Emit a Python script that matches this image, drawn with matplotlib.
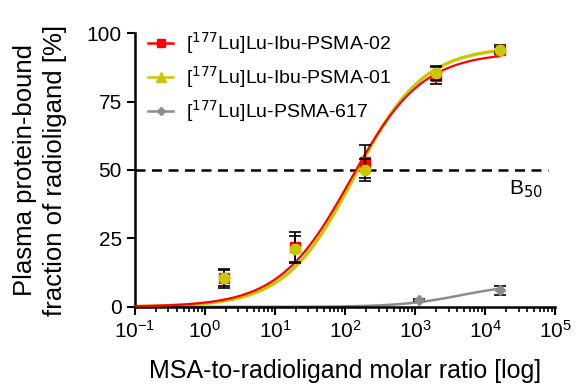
import matplotlib.pyplot as plt
import numpy as np
from matplotlib.lines import Line2D
from matplotlib.ticker import LogLocator, FixedLocator, NullFormatter

plt.rcParams.update({'font.family': ['Liberation Sans', 'DejaVu Sans']})

# data
ratio = [1.9, 19, 190, 2000, 16000]
psma02 = [10.5, 22, 53, 84.5, 94]
psma02_err = [3.5, 5.5, 6, 3, 1.5]
psma01 = [10.5, 21, 50, 85.5, 94]
psma01_err = [3, 5, 4, 2.5, 1]
ratio617 = [1150, 16000]
psma617 = [2.5, 6]
psma617_err = [0.5, 1.5]

# fitted curve parameters (Hill equation, log scale)
fit02 = dict(top=93, ec50=120, h=0.85)
fit01 = dict(top=95, ec50=135, h=0.88)
fit617 = dict(top=8.5, ec50=4500, h=1.0)

labels = ['[$^{177}$Lu]Lu-Ibu-PSMA-02', '[$^{177}$Lu]Lu-Ibu-PSMA-01', '[$^{177}$Lu]Lu-PSMA-617']
colors = ['#ff0000', '#c8c800', '#8c8c8c']


def hill(x, top, ec50, h):
    return top / (1 + (ec50 / x) ** h)


fig = plt.figure(figsize=(5.79, 3.85), dpi=100)
ax = fig.add_axes([0.233, 0.203, 0.726, 0.711])

xs = np.logspace(-1, np.log10(16000), 300)
ax.plot(xs, hill(xs, **fit01), color=colors[1], lw=2.4, zorder=2)
ax.plot(xs, hill(xs, **fit02), color=colors[0], lw=1.6, zorder=3)
ax.plot(xs, hill(xs, **fit617), color=colors[2], lw=1.8, zorder=2)

ax.errorbar(ratio, psma02, yerr=psma02_err, fmt='s', color=colors[0], ms=7,
            ecolor='black', elinewidth=1.2, capsize=4, capthick=1.2, zorder=4)
ax.errorbar(ratio, psma01, yerr=psma01_err, fmt='o', color=colors[1], ms=7.5,
            ecolor='black', elinewidth=1.2, capsize=4, capthick=1.2, zorder=5)
ax.errorbar(ratio617, psma617, yerr=psma617_err, fmt='D', color=colors[2], ms=5,
            ecolor='black', elinewidth=1.2, capsize=4, capthick=1.2, zorder=4)

ax.plot([0.1, 8e4], [50, 50], color='black', lw=1.8, ls=(0, (4, 2.6)), zorder=1)
ax.text(2.2e4, 47, 'B$_{50}$', fontsize=15, ha='left', va='top')

ax.set_xscale('log')
ax.set_xlim(0.1, 1e5)
ax.set_ylim(0, 100)
ax.set_yticks([0, 25, 50, 75, 100])
ax.xaxis.set_major_locator(FixedLocator([10.0 ** k for k in range(-1, 6)]))
ax.xaxis.set_minor_locator(LogLocator(base=10, subs=np.arange(2, 10)))
ax.xaxis.set_minor_formatter(NullFormatter())

for s in ['top', 'right']:
    ax.spines[s].set_visible(False)
for s in ['left', 'bottom']:
    ax.spines[s].set_linewidth(1.8)
ax.tick_params(which='major', length=6, width=1.5, labelsize=15, direction='out')
ax.tick_params(which='minor', length=3.5, width=1.2, direction='out')

ax.set_xlabel('MSA-to-radioligand molar ratio [log]', fontsize=18, labelpad=12)
ax.set_ylabel('Plasma protein-bound\nfraction of radioligand [%]', fontsize=18.5,
              labelpad=14, linespacing=1.3)

handles = [
    Line2D([], [], color=colors[0], marker='s', ms=6, lw=1.8),
    Line2D([], [], color=colors[1], marker='^', ms=7, lw=1.8),
    Line2D([], [], color=colors[2], marker='D', ms=4.5, lw=1.8),
]
ax.legend(handles, labels, loc='upper left', bbox_to_anchor=(-0.01, 1.075), frameon=False,
          fontsize=14, handlelength=1.3, handletextpad=0.65, labelspacing=0.42)

fig.savefig('out.png', dpi=100)
